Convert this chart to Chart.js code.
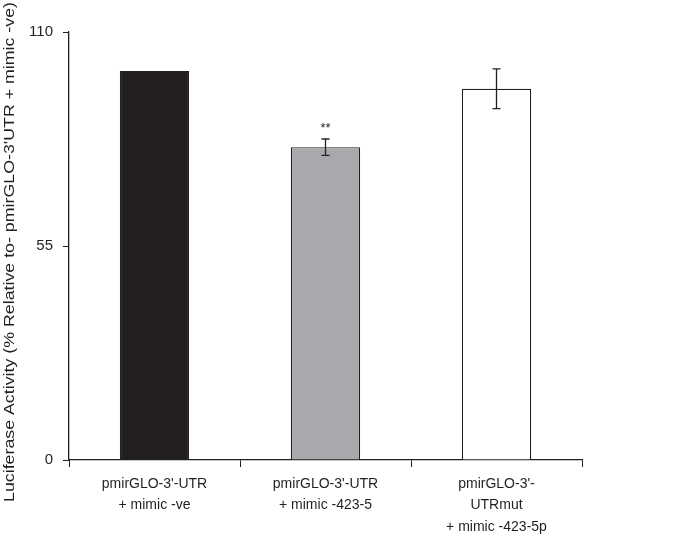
<!DOCTYPE html>
<html>
<head>
<meta charset="utf-8">
<script src="https://cdn.jsdelivr.net/npm/chart.js@4/dist/chart.umd.min.js"></script>
<style>
  html, body { margin: 0; padding: 0; background: #fff; }
  #wrap { width: 698px; height: 540px; }
</style>
</head>
<body>
<div id="wrap"><canvas id="grafico"></canvas></div>
<script>
// datos
const categorias = [
  ['pmirGLO-3\'-UTR', '+ mimic -ve'],
  ['pmirGLO-3\'-UTR', '+ mimic -423-5'],
  ['pmirGLO-3\'-', 'UTRmut', '+ mimic -423-5p']
];
const valores = [100, 80.4, 95.4];
const errores = [0, 2.1, 5.1];
const marcas = ['', '**', ''];
const ticksY = [0, 55, 110];
const tituloY = 'Luciferase Activity (% Relative to- pmirGLO-3\'UTR + mimic -ve)';

const colorTinta = '#231f20';
const fuente = '"Liberation Sans", Arial, sans-serif';

// barras de error y asteriscos
const errorBars = {
  id: 'errorBars',
  afterDatasetsDraw(chart) {
    const ctx = chart.ctx;
    const y = chart.scales.y;
    const meta = chart.getDatasetMeta(0);
    ctx.save();
    ctx.strokeStyle = colorTinta;
    ctx.lineWidth = 1.3;
    meta.data.forEach(function (bar, i) {
      const x = bar.x;
      if (errores[i] > 0) {
        const yTop = y.getPixelForValue(valores[i] + errores[i]);
        const yBot = y.getPixelForValue(valores[i] - errores[i]);
        ctx.beginPath();
        ctx.moveTo(x, yTop); ctx.lineTo(x, yBot);
        ctx.moveTo(x - 4, yTop); ctx.lineTo(x + 4, yTop);
        ctx.moveTo(x - 4, yBot); ctx.lineTo(x + 4, yBot);
        ctx.stroke();
      }
      if (marcas[i]) {
        ctx.fillStyle = colorTinta;
        ctx.font = '13px ' + fuente;
        ctx.textAlign = 'center';
        ctx.textBaseline = 'middle';
        ctx.fillText(marcas[i], x, y.getPixelForValue(valores[i] + errores[i]) - 11);
      }
    });
    ctx.restore();
  }
};

// titulo del eje y, algo estirado a lo largo como en la figura
const tituloEjeY = {
  id: 'tituloEjeY',
  afterDraw(chart) {
    const ctx = chart.ctx;
    ctx.save();
    ctx.font = '15px ' + fuente;
    ctx.fillStyle = colorTinta;
    ctx.textAlign = 'center';
    ctx.textBaseline = 'alphabetic';
    const ancho = ctx.measureText(tituloY).width;
    ctx.translate(14, 252);
    ctx.rotate(-Math.PI / 2);
    ctx.scale(500 / ancho, 1);
    ctx.fillText(tituloY, 0, 0);
    ctx.restore();
  }
};

new Chart(document.getElementById('grafico'), {
  type: 'bar',
  data: {
    labels: categorias,
    datasets: [{
      data: valores,
      backgroundColor: [colorTinta, '#a7a9ac', '#ffffff'],
      borderColor: colorTinta,
      borderWidth: 1.2,
      categoryPercentage: 1,
      barPercentage: 0.405
    }]
  },
  options: {
    responsive: true,
    maintainAspectRatio: false,
    animation: false,
    layout: { padding: { left: 2, right: 116, top: 32, bottom: 0 } },
    plugins: {
      legend: { display: false },
      tooltip: { enabled: false }
    },
    scales: {
      x: {
        grid: {
          display: true,
          drawOnChartArea: false,
          drawTicks: true,
          tickLength: 7,
          color: colorTinta,
          offset: true
        },
        border: { color: colorTinta, width: 1.3 },
        ticks: {
          color: colorTinta,
          maxRotation: 0,
          autoSkip: false,
          padding: 6,
          font: { family: fuente, size: 14, lineHeight: 1.55 }
        },
        afterFit(scale) { scale.height = 80; }
      },
      y: {
        min: 0,
        max: 110,
        afterBuildTicks(scale) {
          scale.ticks = ticksY.map(function (v) { return { value: v }; });
        },
        grid: {
          display: true,
          drawOnChartArea: false,
          drawTicks: true,
          tickLength: 6,
          color: colorTinta
        },
        border: { color: colorTinta, width: 1.3 },
        ticks: {
          color: colorTinta,
          padding: 10,
          font: { family: fuente, size: 15 }
        },
        afterFit(scale) { scale.width = 67; }
      }
    }
  },
  plugins: [errorBars, tituloEjeY]
});
</script>
</body>
</html>
